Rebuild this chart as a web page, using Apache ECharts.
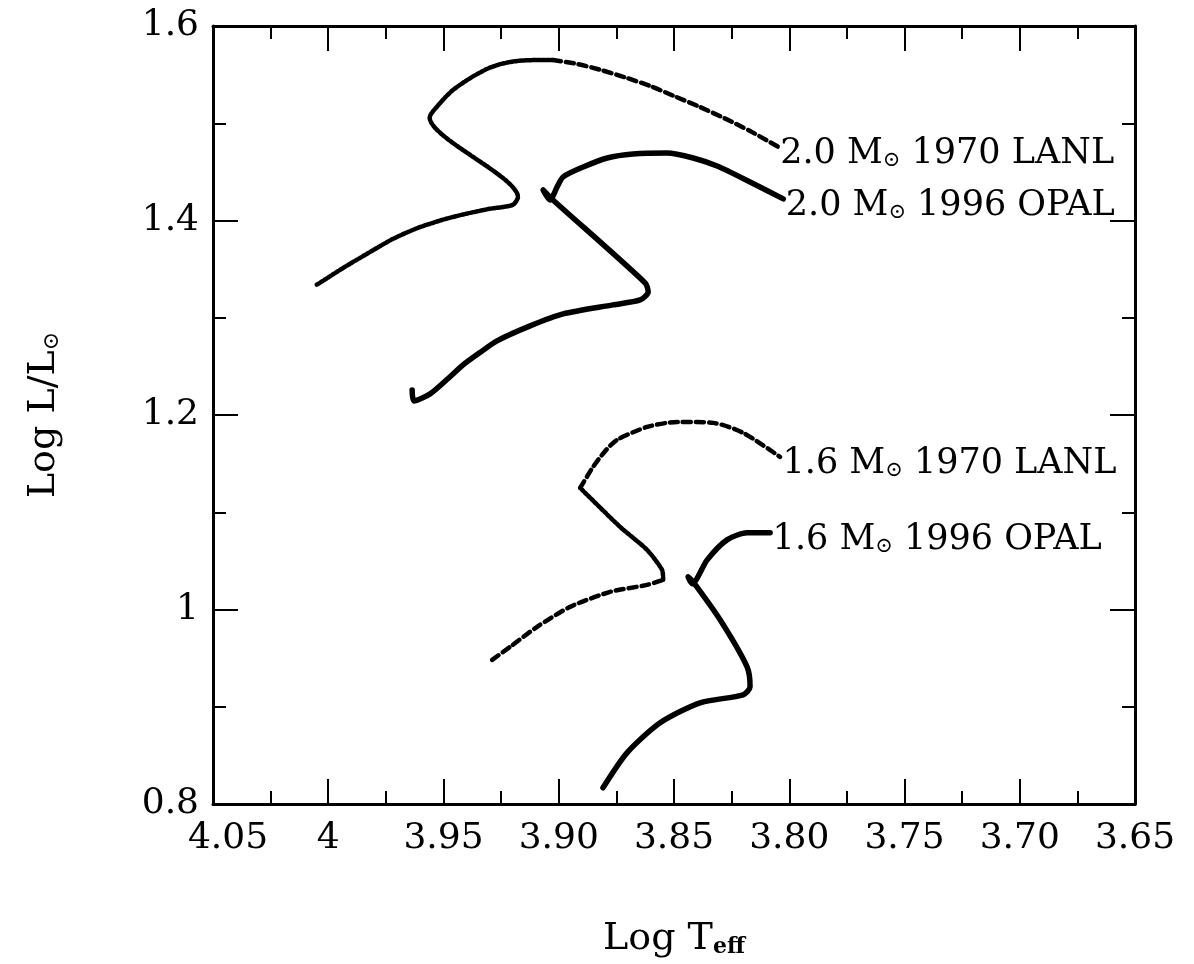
<!DOCTYPE html>
<html>
<head>
<meta charset="utf-8">
<script src="https://cdn.jsdelivr.net/npm/echarts@6/dist/echarts.min.js"></script>
<style>
  html, body { margin: 0; padding: 0; background: #fff; }
  #chart { width: 1194px; height: 964px; }
</style>
</head>
<body>
<div id="chart"></div>
<script>
  // tick labels as printed on the figure
  const xTicks = [4.05, 4.0, 3.95, 3.90, 3.85, 3.80, 3.75, 3.70, 3.65];
  const xTickLabels = ["4.05", "4", "3.95", "3.90", "3.85", "3.80", "3.75", "3.70", "3.65"];
  const yTicks = [0.8, 1.0, 1.2, 1.4, 1.6];
  const yTickLabels = ["0.8", "1", "1.2", "1.4", "1.6"];

  // 2.0 Msun, 1970 LANL track  [log Teff, log L]
  const lanl20Early = [
    [4.005, 1.334], [4.0036, 1.336], [3.993, 1.352], [3.983, 1.366], [3.972, 1.381],
    [3.9615, 1.392], [3.950, 1.401], [3.940, 1.407], [3.930, 1.412], [3.920, 1.416],
    [3.9177, 1.424], [3.956, 1.506], [3.951, 1.522], [3.946, 1.534], [3.938, 1.547],
    [3.931, 1.556], [3.925, 1.561], [3.918, 1.564], [3.910, 1.565], [3.9025, 1.565],
  ];
  const lanl20Late = [
    [3.9025, 1.565], [3.892, 1.561], [3.882, 1.555], [3.871, 1.547], [3.860, 1.538],
    [3.850, 1.528], [3.839, 1.517], [3.828, 1.505], [3.817, 1.492], [3.805, 1.476],
  ];

  // 2.0 Msun, 1996 OPAL track
  const opal20 = [
    [3.9636, 1.2258], [3.9628, 1.2145], [3.9558, 1.2217], [3.948, 1.2375], [3.9415, 1.2515],
    [3.934, 1.2645], [3.9268, 1.2762], [3.9124, 1.2916], [3.8981, 1.3039], [3.8765, 1.3132],
    [3.8647, 1.3183], [3.8612, 1.3265], [3.8625, 1.3358], [3.9025, 1.4211], [3.9068, 1.4314],
    [3.9038, 1.421], [3.9007, 1.4345], [3.8981, 1.4448], [3.8894, 1.455], [3.879, 1.4643],
    [3.8678, 1.4684], [3.853, 1.4694], [3.8417, 1.4643], [3.8313, 1.456], [3.817, 1.4396],
    [3.8026, 1.4222],
  ];

  // 1.6 Msun, 1970 LANL track
  const lanl16Ms = [
    [3.9289, 0.9482], [3.9211, 0.9616], [3.9094, 0.9822], [3.8951, 1.0027], [3.8777, 1.0181],
    [3.8617, 1.0253], [3.8547, 1.0305],
  ];
  const lanl16Hook = [
    [3.8547, 1.0305], [3.8552, 1.0408], [3.8617, 1.0613], [3.8734, 1.085], [3.8907, 1.125],
  ];
  const lanl16Late = [
    [3.8907, 1.125], [3.8851, 1.1467], [3.8800, 1.1625], [3.8747, 1.1744], [3.8617, 1.1877],
    [3.8486, 1.1929], [3.833, 1.1919], [3.82, 1.1816], [3.804, 1.1569],
  ];

  // 1.6 Msun, 1996 OPAL track
  const opal16 = [
    [3.8808, 0.8167], [3.8704, 0.8526], [3.856, 0.8835], [3.8387, 0.904], [3.82, 0.9123],
    [3.817, 0.9205], [3.8183, 0.941], [3.83, 0.9894], [3.8417, 1.0284], [3.8439, 1.0336],
    [3.8421, 1.0264], [3.8356, 1.051], [3.827, 1.0716], [3.8183, 1.0788], [3.8083, 1.0788],
  ];

  const trackLabels = {
    lanl20: "2.0 M{s|⊙} 1970 LANL",
    opal20: "2.0 M{s|⊙} 1996 OPAL",
    lanl16: "1.6 M{s|⊙} 1970 LANL",
    opal16: "1.6 M{s|⊙} 1996 OPAL",
  };

  const FONT = '"DejaVu Serif", "Liberation Serif", serif';

  function tickLabel(ticks, labels, firstPad) {
    return (v) => {
      const i = ticks.findIndex((t) => Math.abs(t - v) < 1e-6);
      if (i < 0) return "";
      if (firstPad && i === 0) return "{first|" + labels[i] + "}";
      return labels[i];
    };
  }

  function track(data, dash, width, label) {
    const s = {
      type: "line",
      data,
      symbol: "none",
      smooth: 0.25,
      silent: true,
      animation: false,
      lineStyle: { color: "#000", width, type: dash, cap: "round", join: "round" },
    };
    if (label) {
      // label sits just after the last point of the track
      s.markPoint = {
        symbol: "circle",
        symbolSize: 1,
        itemStyle: { color: "rgba(0,0,0,0)" },
        silent: true,
        data: [{ coord: data[data.length - 1] }],
        label: {
          show: true,
          position: "right",
          distance: 2,
          offset: [0, 7],
          formatter: () => label,
          color: "#000",
          fontFamily: FONT,
          fontSize: 35,
          rich: {
            s: { fontFamily: FONT, fontSize: 21, color: "#000", padding: [14, 0, 0, 0] },
          },
        },
      };
    }
    return s;
  }

  const axisBase = {
    type: "value",
    axisLine: { show: true, lineStyle: { color: "#000", width: 3 } },
    axisTick: { show: true, inside: true, length: 25, lineStyle: { color: "#000", width: 2 } },
    minorTick: { show: true, splitNumber: 2, length: 13, lineStyle: { color: "#000", width: 2 } },
    splitLine: { show: false },
    minorSplitLine: { show: false },
  };

  const xBase = { ...axisBase, min: 3.65, max: 4.05, interval: 0.05, inverse: true };
  const yBase = { ...axisBase, min: 0.8, max: 1.6, interval: 0.2 };

  const option = {
    backgroundColor: "#fff",
    animation: false,
    grid: { left: 213, right: 59, top: 26, bottom: 160, containLabel: false, outerBoundsMode: "none" },
    xAxis: [
      {
        ...xBase,
        position: "bottom",
        name: "Log T{sub|eff}",
        nameLocation: "middle",
        nameGap: 116,
        nameTextStyle: {
          fontFamily: FONT, fontSize: 38, color: "#000",
          rich: { sub: { fontFamily: FONT, fontSize: 22, fontWeight: "bold", color: "#000", padding: [16, 0, 0, 0] } },
        },
        axisLabel: {
          show: true, margin: 17, color: "#000", fontFamily: FONT, fontSize: 36,
          formatter: tickLabel(xTicks, xTickLabels, true),
          rich: { first: { fontFamily: FONT, fontSize: 36, color: "#000", padding: [0, 0, 0, 30] } },
        },
      },
      { ...xBase, position: "top", axisLabel: { show: false } },
    ],
    yAxis: [
      {
        ...yBase,
        position: "left",
        name: "Log L/L{s|⊙}",
        nameLocation: "middle",
        nameRotate: 90,
        nameGap: 150,
        nameTextStyle: {
          fontFamily: FONT, fontSize: 38, color: "#000",
          rich: { s: { fontFamily: FONT, fontSize: 22, color: "#000", padding: [16, 0, 0, 0] } },
        },
        axisLabel: {
          show: true, margin: 14, color: "#000", fontFamily: FONT, fontSize: 36,
          formatter: tickLabel(yTicks, yTickLabels, false),
        },
      },
      { ...yBase, position: "right", axisLabel: { show: false } },
    ],
    series: [
      track(lanl20Early, [3, 1.5], 4.5, null),
      track(lanl20Late, [8, 5], 4.5, trackLabels.lanl20),
      track(opal20, "solid", 5.5, trackLabels.opal20),
      track(lanl16Ms, [8, 5], 4.5, null),
      track(lanl16Hook, [3, 1.5], 4.5, null),
      track(lanl16Late, [8, 5], 4.5, trackLabels.lanl16),
      track(opal16, "solid", 5.5, trackLabels.opal16),
    ],
  };

  echarts.init(document.getElementById("chart"), null, { renderer: "canvas" }).setOption(option);
</script>
</body>
</html>
